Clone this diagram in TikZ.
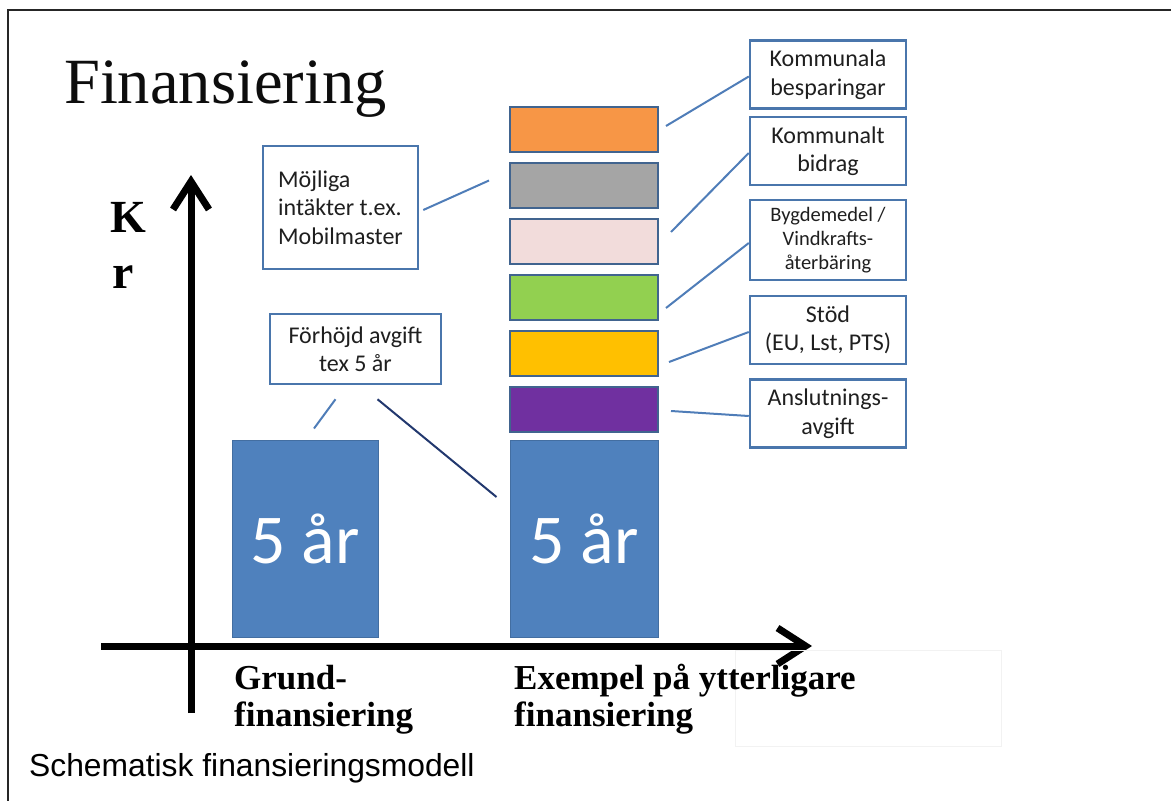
\documentclass[tikz,border=0pt]{standalone}
\usepackage{fontspec}
\setmainfont{Liberation Serif}
\newfontfamily\boxfont{Carlito}
\newfontfamily\capfont{Liberation Sans}
\usetikzlibrary{arrows.meta, positioning, calc}
\definecolor{barblue}{HTML}{4F81BD}
\definecolor{barrim}{HTML}{41648F}
\definecolor{boxrim}{HTML}{4A76AC}
\definecolor{linkblue}{HTML}{4F7DB8}
\definecolor{linknavy}{HTML}{22386E}
\definecolor{fillorange}{HTML}{F79646}
\definecolor{fillgray}{HTML}{A5A5A5}
\definecolor{fillpink}{HTML}{F2DCDB}
\definecolor{fillgreen}{HTML}{92D050}
\definecolor{fillyellow}{HTML}{FFC000}
\definecolor{fillpurple}{HTML}{7030A0}
\definecolor{inktext}{HTML}{1F1F1F}
\tikzset{
  bar/.style={
    rectangle, draw=barrim, line width=2pt,
    minimum width=148pt, minimum height=45pt, inner sep=0pt,
  },
  yearbar/.style={
    rectangle, fill=barblue, draw=barblue!85!black, line width=1pt,
    minimum width=146pt, minimum height=197pt,
    text=white, font=\boxfont\fontsize{70}{84}\selectfont,
  },
  infobox/.style={
    rectangle, draw=boxrim, line width=2.5pt, fill=white,
    minimum width=156pt, minimum height=68pt, inner sep=2pt,
    align=center, text=inktext, font=\boxfont\fontsize{24}{28.5}\selectfont,
  },
  link/.style={draw=linkblue, line width=2pt},
  axis/.style={line width=7pt, -{Straight Barb[length=28pt,width=36pt,line width=7pt]}},
  axistext/.style={font=\bfseries\fontsize{35}{37}\selectfont, align=left, inner sep=0pt},
}
\begin{document}
\begin{tikzpicture}[x=1pt,y=-1pt]
  \useasboundingbox (0,0) rectangle (1171,801);
  \draw[line width=1.8pt, black!85] (8,801) -- (8,10) -- (1171,10);
  \node[anchor=base west, inner sep=0pt, text=black!95, font=\fontsize{64.5}{70}\selectfont] (title) at (64,103) {Finansiering};

  % staplar
  \node[yearbar] (grund) at (305,538.5) {5 år};
  \node[yearbar, minimum width=148pt] (extra) at (584,538.5) {5 år};
  \node[bar, fill=fillpurple, above=7pt of extra] (anslut) {};
  \node[bar, fill=fillyellow, above=9pt of anslut] (stod) {};
  \node[bar, fill=fillgreen, above=9pt of stod] (bygd) {};
  \node[bar, fill=fillpink, above=9pt of bygd] (bidrag) {};
  \node[bar, fill=fillgray, above=9pt of bidrag] (intakt) {};
  \node[bar, fill=fillorange, above=9pt of intakt] (besparing) {};

  % axlar
  \draw[axis] (191,713) -- (191,175);
  \draw[axis] (101,646) -- (812,646);
  \node[anchor=base, inner sep=0pt, font=\bfseries\fontsize{46}{50}\selectfont] (ktext) at (128,232) {K};
  \node[anchor=base, inner sep=0pt, font=\bfseries\fontsize{48}{50}\selectfont] (rtext) at (123,288) {r};
  \draw[black!5, line width=1pt] (735,650) rectangle (1001,746);
  \node[axistext, anchor=base west] (grundtext) at (234,726) {Grund-\\finansiering};
  \node[axistext, anchor=base west] (extratext) at (514,726) {Exempel på ytterligare\\finansiering};
  \node[anchor=base west, inner sep=0pt, font=\capfont\fontsize{31.8}{36}\selectfont] (caption) at (29,776) {Schematisk finansieringsmodell};

  % textrutor
  \node[infobox] (besparingbox) at (828,74.5) {Kommunala\\besparingar};
  \node[infobox] (bidragbox) at (828,151) {Kommunalt\\bidrag};
  \node[infobox, minimum height=80pt, font=\boxfont\fontsize{20.5}{24}\selectfont] (bygdbox) at (828,240) {Bygdemedel /\\Vindkrafts-\\återbäring};
  \node[infobox] (stodbox) at (828,330) {Stöd\\(EU, Lst, PTS)};
  \node[infobox] (anslutbox) at (828,413.5) {Anslutnings-\\avgift};
  \node[infobox, minimum width=155pt, minimum height=123pt, align=left] (intaktbox) at (340.5,207.5) {Möjliga\\intäkter t.ex.\\Mobilmaster};
  \node[infobox, minimum width=171pt, minimum height=70pt] (forhojdbox) at (355.5,349) {Förhöjd avgift\\tex 5 år};

  % linjer
  \draw[link] ([xshift=7pt,yshift=3pt]besparing.east) -- ([yshift=-2pt]besparingbox.west);
  \draw[link] ([xshift=12pt,yshift=9pt]bidrag.east) -- ([yshift=-2pt]bidragbox.west);
  \draw[link] ([xshift=7pt,yshift=-11pt]bygd.east) -- ([yshift=-3pt]bygdbox.west);
  \draw[link] ([xshift=10pt,yshift=-9pt]stod.east) -- ([yshift=-2pt]stodbox.west);
  \draw[link] ([xshift=12pt,yshift=-2pt]anslut.east) -- ([yshift=-2.5pt]anslutbox.west);
  \draw[link] ([xshift=4pt,yshift=-2.5pt]intaktbox.east) -- ([xshift=-20pt,yshift=4.5pt]intakt.west);
  \draw[link] ([xshift=-20pt,yshift=-14pt]forhojdbox.south) -- ([xshift=9pt,yshift=11pt]grund.north);
  \draw[link, draw=linknavy] ([xshift=22pt,yshift=-14pt]forhojdbox.south) -- ([xshift=-13pt,yshift=41.5pt]extra.west);
\end{tikzpicture}
\end{document}
